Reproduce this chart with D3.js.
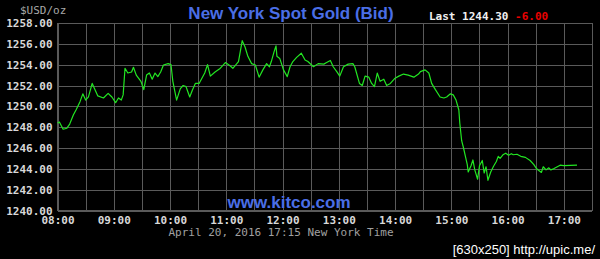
<!DOCTYPE html>
<html>
<head>
<meta charset="utf-8">
<script src="https://cdn.jsdelivr.net/npm/d3@7"></script>
<style>
  html, body { margin: 0; padding: 0; background: #000; }
  svg { display: block; }
  .grid line { stroke: #5a5a5a; stroke-width: 1; shape-rendering: crispEdges; }
  .grid path { display: none; }
  .ylab text, .xlab text { font-family: "DejaVu Sans Mono", monospace; font-size: 11px; font-weight: bold; fill: #d8d8d8; }
  .ylab path, .ylab line, .xlab path, .xlab line { display: none; }
</style>
</head>
<body>
<div id="chart"></div>
<script>
// spot gold bid, New York session, April 20 2016
var times = [
  '08:00','08:02','08:06','08:10','08:13','08:17','08:20','08:24','08:27','08:30',
  '08:33','08:37','08:40','08:43','08:49','08:54','08:58','09:02','09:05','09:08',
  '09:10','09:12','09:15','09:19','09:21','09:24','09:29','09:32','09:35','09:38',
  '09:41','09:44','09:47','09:50','09:53','09:58','10:01','10:03','10:07','10:11',
  '10:14','10:17','10:21','10:24','10:27','10:31','10:34','10:37','10:40','10:43',
  '10:48','10:53','10:59','11:04','11:07','11:13','11:17','11:20','11:23','11:27',
  '11:31','11:35','11:39','11:43','11:46','11:48','11:51','11:53','11:54','11:57',
  '12:01','12:05','12:08','12:11','12:15','12:20','12:24','12:27','12:33','12:38',
  '12:44','12:47','12:51','12:54','12:58','13:01','13:05','13:10','13:15','13:17',
  '13:22','13:25','13:28','13:32','13:35','13:38','13:41','13:44','13:48','13:51',
  '13:55','14:00','14:04','14:09','14:14','14:20','14:25','14:27','14:32','14:36',
  '14:39','14:43','14:48','14:52','14:55','14:59','15:02','15:05','15:08','15:09',
  '15:11','15:13','15:15','15:17','15:18','15:21','15:23','15:25','15:28','15:30',
  '15:33','15:35','15:37','15:39','15:42','15:45','15:48','15:50','15:52','15:55',
  '15:58','16:01','16:04','16:06','16:10','16:14','16:19','16:24','16:28','16:31',
  '16:36','16:38','16:41','16:44','16:46','16:49','16:53','16:56','17:00','17:14'
];
var prices = [
  1248.4,1248.5,1247.8,1247.9,1248.3,1249.2,1249.7,1250.45,1251.2,1250.6,
  1250.9,1252.2,1251.6,1251.0,1250.8,1251.25,1250.9,1250.35,1250.8,1250.6,
  1251.1,1253.65,1253.2,1253.3,1253.75,1253.0,1252.4,1251.6,1253.0,1253.2,
  1252.6,1253.2,1252.85,1253.3,1253.97,1254.1,1254.0,1252.4,1250.6,1251.7,
  1252.0,1251.9,1250.9,1251.6,1252.2,1252.2,1252.7,1253.2,1254.0,1252.9,
  1253.3,1253.6,1254.2,1253.9,1253.65,1254.3,1256.3,1255.7,1254.8,1254.1,
  1253.97,1252.8,1253.5,1254.1,1253.8,1254.3,1255.25,1255.8,1254.8,1254.6,
  1253.5,1252.85,1253.8,1254.3,1254.7,1255.1,1254.45,1254.3,1253.8,1254.1,
  1254.05,1254.2,1254.4,1253.8,1253.3,1252.9,1253.8,1254.05,1254.1,1253.8,
  1252.2,1252.0,1252.9,1252.8,1252.2,1251.9,1253.2,1252.4,1252.6,1252.0,
  1252.2,1252.7,1252.9,1253.1,1253.0,1252.8,1253.1,1253.33,1253.5,1253.2,
  1252.2,1251.6,1250.9,1250.8,1250.9,1251.2,1251.1,1250.6,1249.65,1248.4,
  1246.7,1246.0,1245.2,1244.4,1243.7,1244.3,1244.85,1243.9,1243.0,1244.3,
  1244.8,1243.6,1244.2,1242.9,1243.7,1244.25,1244.7,1245.2,1245.0,1245.35,
  1245.5,1245.3,1245.45,1245.35,1245.4,1245.2,1245.1,1244.8,1244.4,1244.0,
  1243.65,1244.2,1243.9,1244.1,1243.9,1244.0,1244.2,1244.35,1244.3,1244.35
];
var priceTicks = [1240, 1242, 1244, 1246, 1248, 1250, 1252, 1254, 1256, 1258];
var hourTicks = ['08:00','09:00','10:00','11:00','12:00','13:00','14:00','15:00','16:00','17:00'];
var halfHourTicks = [
  '08:00','08:30','09:00','09:30','10:00','10:30','11:00','11:30','12:00','12:30',
  '13:00','13:30','14:00','14:30','15:00','15:30','16:00','16:30','17:00','17:30'
];
var lastPrice = '1244.30', change = '-6.00';

!(function () {
  var W = 600, H = 259,
      m = { left: 57.5, right: 592, top: 23, bottom: 210.5 };

  var parse = d3.timeParse('%H:%M');

  var x = d3.scaleTime()
        .domain([parse('08:00'), parse('17:30')])
        .range([m.left, m.right]);
  var y = d3.scaleLinear()
        .domain([1240, 1258])
        .range([m.bottom, m.top]);

  var svg = d3.select('#chart').append('svg')
        .attr('width', W)
        .attr('height', H);

  svg.append('rect').attr('width', W).attr('height', H).attr('fill', '#000');

  // grid
  svg.append('g')
    .attr('class', 'grid')
    .attr('transform', 'translate(0,' + m.bottom + ')')
    .call(d3.axisBottom(x).tickValues(halfHourTicks.map(parse))
      .tickSize(-(m.bottom - m.top)).tickFormat(''));

  svg.append('g')
    .attr('class', 'grid')
    .attr('transform', 'translate(' + m.left + ',0)')
    .call(d3.axisLeft(y).tickValues(priceTicks)
      .tickSize(-(m.right - m.left)).tickFormat(''));

  svg.append('rect')
    .attr('x', m.left).attr('y', m.top)
    .attr('width', m.right - m.left).attr('height', m.bottom - m.top)
    .attr('fill', 'none').attr('stroke', '#5a5a5a')
    .attr('shape-rendering', 'crispEdges');

  // axis labels
  svg.append('g')
    .attr('class', 'ylab')
    .attr('transform', 'translate(' + m.left + ',0)')
    .call(d3.axisLeft(y).tickValues(priceTicks).tickSize(0).tickPadding(5)
      .tickFormat(d3.format('.2f')));

  svg.append('g')
    .attr('class', 'xlab')
    .attr('transform', 'translate(0,' + m.bottom + ')')
    .call(d3.axisBottom(x).tickValues(hourTicks.map(parse)).tickSize(0).tickPadding(6)
      .tickFormat(d3.timeFormat('%H:%M')));

  // price line
  var line = d3.line()
        .x(function (d, i) { return x(parse(times[i])); })
        .y(function (d) { return y(d); });

  svg.append('path')
    .datum(prices)
    .attr('d', line)
    .attr('fill', 'none')
    .attr('stroke', '#22e622')
    .attr('stroke-width', 1.2)
    .attr('stroke-linejoin', 'round');

  // texts
  svg.append('text')
    .attr('x', 20).attr('y', 14)
    .attr('font-family', 'DejaVu Sans Mono, monospace')
    .attr('font-size', 11)
    .attr('fill', '#a8a8a8')
    .text('$USD/oz');

  svg.append('text')
    .attr('x', 291).attr('y', 19)
    .attr('text-anchor', 'middle')
    .attr('font-family', 'Liberation Sans, Arial, sans-serif')
    .attr('font-weight', 'bold')
    .attr('font-size', 17)
    .attr('fill', '#4a6ee6')
    .text('New York Spot Gold (Bid)');

  var last = svg.append('text')
    .attr('x', 429).attr('y', 20)
    .attr('font-family', 'DejaVu Sans Mono, monospace')
    .attr('font-weight', 'bold')
    .attr('font-size', 11);
  last.append('tspan').attr('fill', '#f0f0f0').text('Last ' + lastPrice + ' ');
  last.append('tspan').attr('fill', '#e80000').text(change);

  svg.append('text')
    .attr('x', 289).attr('y', 208)
    .attr('text-anchor', 'middle')
    .attr('font-family', 'Liberation Sans, Arial, sans-serif')
    .attr('font-weight', 'bold')
    .attr('font-size', 17)
    .attr('fill', '#4a6ee6')
    .text('www.kitco.com');

  svg.append('text')
    .attr('x', 281).attr('y', 236)
    .attr('text-anchor', 'middle')
    .attr('font-family', 'DejaVu Sans Mono, monospace')
    .attr('font-size', 11)
    .attr('fill', '#a0a0a0')
    .text('April 20, 2016 17:15 New York Time');

  svg.append('text')
    .attr('x', 595).attr('y', 254)
    .attr('text-anchor', 'end')
    .attr('font-family', 'Liberation Sans, Arial, sans-serif')
    .attr('font-size', 13)
    .attr('fill', '#ffffff')
    .text('[630x250] http://upic.me/');
})();
</script>
</body>
</html>
